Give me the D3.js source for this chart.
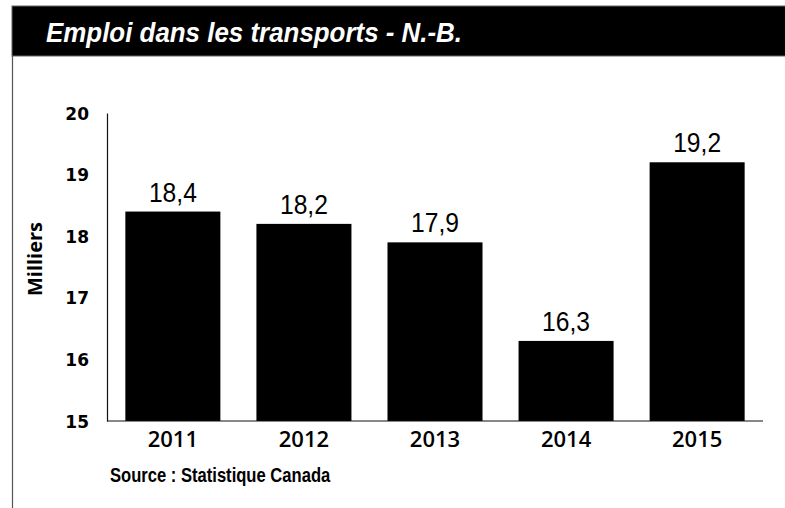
<!DOCTYPE html>
<html>
<head>
  <meta charset="utf-8">
  <title>Emploi dans les transports - N.-B.</title>
  <style type="text/css">
    body { margin: 0; background: #fff; }
    svg { display: block; }
    .domain { stroke: #111; stroke-width: 1.2px; }
  </style>
</head>
<body>

<svg id="vis" width="785" height="508"></svg>

<script src="https://cdnjs.cloudflare.com/ajax/libs/d3/7.8.5/d3.min.js"></script>
<script type="text/javascript">

  // data
  var years = ['2011', '2012', '2013', '2014', '2015'];
  var values = [18.4, 18.2, 17.9, 16.3, 19.2];
  var valueLabels = ['18,4', '18,2', '17,9', '16,3', '19,2'];
  var yTicks = [15, 16, 17, 18, 19, 20];

  var svg = d3.select('#vis');

  var sans = '"Liberation Sans", Arial, sans-serif';

  // title band + left frame line
  svg.append('rect')
    .attr('x', 12).attr('y', 6)
    .attr('width', 790).attr('height', 50)
    .attr('fill', '#000')
    .attr('stroke', '#666').attr('stroke-width', 1);

  svg.append('line')
    .attr('x1', 12.5).attr('x2', 12.5)
    .attr('y1', 56).attr('y2', 508)
    .attr('stroke', '#555').attr('stroke-width', 1.2);

  svg.append('text')
    .attr('transform', 'translate(46,42) scale(0.96,1)')
    .attr('fill', '#fff')
    .style('font-family', sans)
    .style('font-weight', 'bold')
    .style('font-style', 'italic')
    .style('font-size', '27px')
    .text('Emploi dans les transports - N.-B.');

  // scales
  var x = d3.scaleBand()
    .domain(years)
    .range([107, 763])
    .paddingInner(0.275)
    .paddingOuter(0.14);

  var y = d3.scaleLinear()
    .domain([15, 20])
    .range([421, 113]);

  // bars
  svg.selectAll('rect.bar')
    .data(years)
    .enter().append('rect')
    .attr('class', 'bar')
    .attr('x', function(d) { return x(d) })
    .attr('width', x.bandwidth())
    .attr('y', function(d, i) { return y(values[i]) })
    .attr('height', function(d, i) { return y(15) - y(values[i]) })
    .attr('fill', '#000');

  // value labels (squeezed a bit, the original font is condensed)
  svg.selectAll('text.val')
    .data(years)
    .enter().append('text')
    .attr('class', 'val')
    .attr('transform', function(d, i) {
      return 'translate(' + (x(d) + x.bandwidth() / 2) + ',' + (y(values[i]) - 10) + ') scale(0.88,1)';
    })
    .attr('text-anchor', 'middle')
    .attr('fill', '#000')
    .style('font-family', sans)
    .style('font-size', '28px')
    .text(function(d, i) { return valueLabels[i] });

  // axes
  var gx = svg.append('g')
    .attr('transform', 'translate(0,421)')
    .call(d3.axisBottom(x).tickSize(0).tickSizeOuter(0));
  gx.select('.domain').attr('d', 'M107,0H763');
  gx.selectAll('text')
    .attr('y', 26).attr('dy', 0)
    .attr('fill', '#000')
    .style('font-family', '"Open Sans", sans-serif')
    .style('font-weight', 600)
    .style('font-size', '22px');

  var gy = svg.append('g')
    .attr('transform', 'translate(107,0)')
    .call(d3.axisLeft(y).tickValues(yTicks).tickFormat(d3.format('d'))
      .tickSize(0).tickSizeOuter(0).tickPadding(18));
  gy.selectAll('text')
    .attr('dy', '0.36em')
    .attr('fill', '#000')
    .style('font-family', '"DejaVu Sans", sans-serif')
    .style('font-weight', 'bold')
    .style('font-size', '17px');

  // y title
  svg.append('text')
    .attr('transform', 'translate(42,259) rotate(-90)')
    .attr('text-anchor', 'middle')
    .attr('fill', '#000')
    .style('font-family', '"Open Sans", sans-serif')
    .style('font-weight', 'bold')
    .style('font-size', '20px')
    .text('Milliers');

  // source
  svg.append('text')
    .attr('transform', 'translate(110,482) scale(0.83,1)')
    .attr('fill', '#000')
    .style('font-family', sans)
    .style('font-weight', 'bold')
    .style('font-size', '20px')
    .text('Source : Statistique Canada');

</script>
</body>
</html>
